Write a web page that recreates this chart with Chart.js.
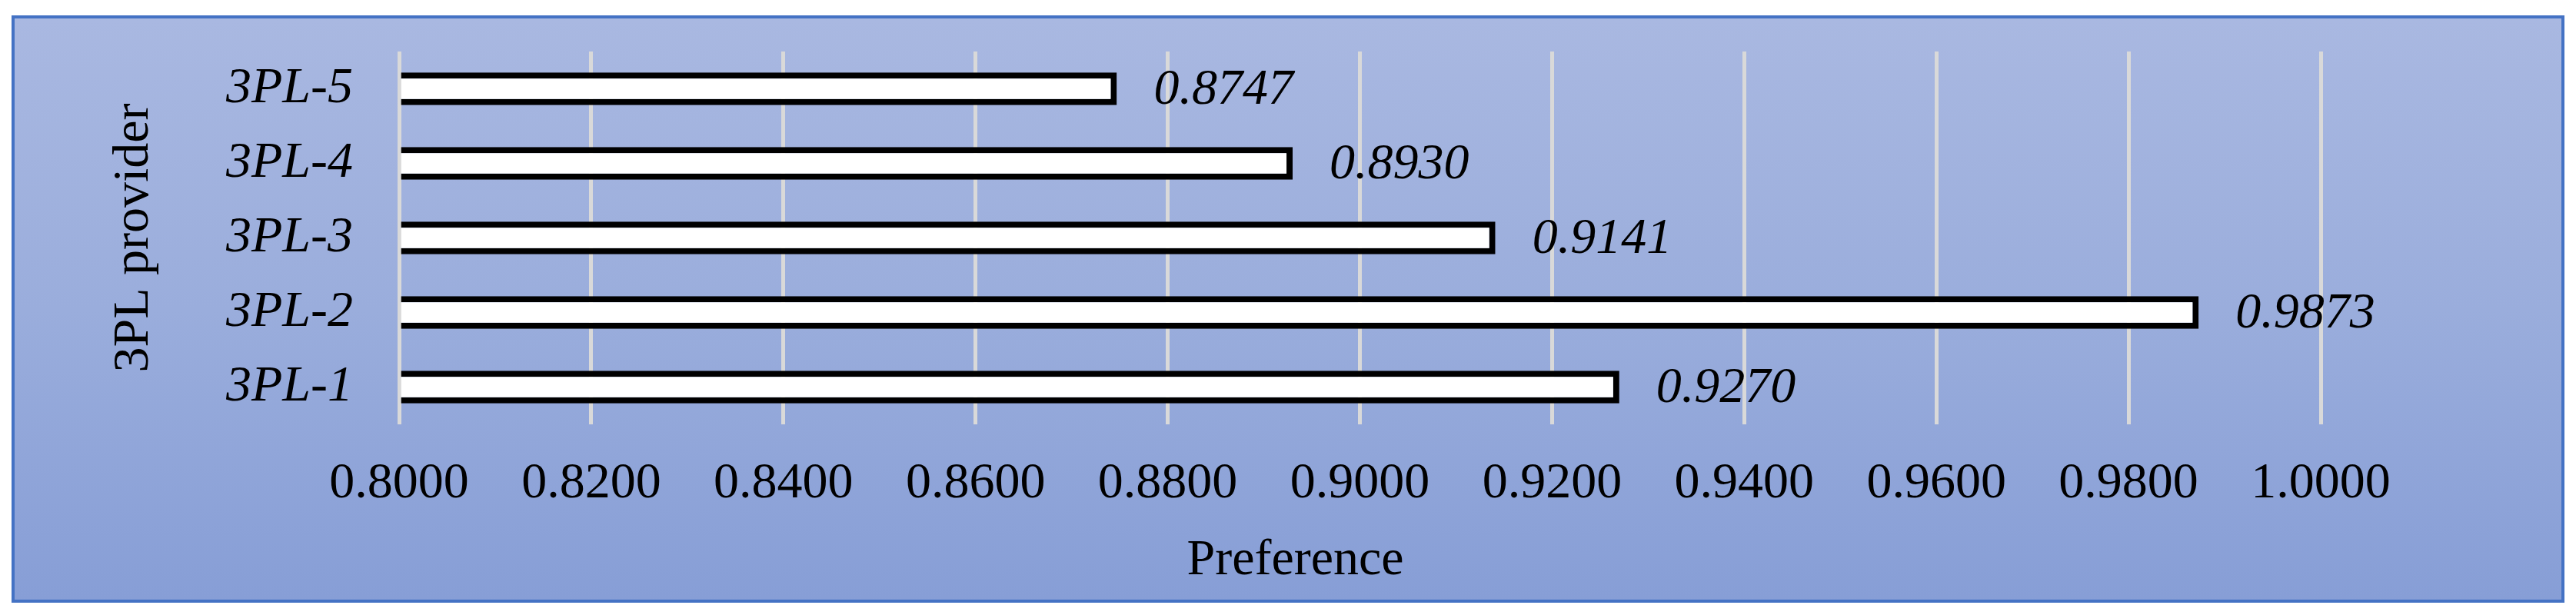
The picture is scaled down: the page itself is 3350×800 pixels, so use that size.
<!DOCTYPE html>
<html>
<head>
<meta charset="utf-8">
<script src="https://cdn.jsdelivr.net/npm/chart.js@4.4.1/dist/chart.umd.min.js"></script>
<style>
  html, body { margin: 0; padding: 0; background: #ffffff; }
  body { width: 3350px; height: 800px; position: relative; overflow: hidden; }
  #frame {
    position: absolute; left: 15px; top: 20px; width: 3312px; height: 756px;
    border: 4px solid #4472C4;
    background: linear-gradient(to bottom, #A9B8E1 0%, #9AADDC 50%, #879ED6 100%);
  }
  #wrap { position: absolute; left: 0; top: 0; width: 3350px; height: 800px; }
</style>
</head>
<body>
<div id="frame"></div>
<div id="wrap"><canvas id="c" width="3350" height="800"></canvas></div>
<script>
// ---- data ----
const categories = ['3PL-1', '3PL-2', '3PL-3', '3PL-4', '3PL-5'];
const preferenceValues = [0.9270, 0.9873, 0.9141, 0.8930, 0.8747];
const xTickMin = 0.8;
const xTickMax = 1.0;
const xTickStep = 0.02;
const xAxisTitle = 'Preference';
const yAxisTitle = '3PL provider';

const FONT = '"Liberation Serif", "Times New Roman", Times, serif';

const valueLabelPlugin = {
  id: 'valueLabels',
  afterDatasetsDraw(chart) {
    const ctx = chart.ctx;
    const meta = chart.getDatasetMeta(0);
    ctx.save();
    ctx.font = 'italic 66px ' + FONT;
    ctx.fillStyle = '#000000';
    ctx.textAlign = 'left';
    ctx.textBaseline = 'middle';
    meta.data.forEach((bar, i) => {
      const v = chart.data.datasets[0].data[i];
      ctx.fillText(v.toFixed(4), bar.x + 48, bar.y + 2);
    });
    ctx.restore();
  }
};

const xTitlePlugin = {
  id: 'xTitle',
  afterDraw(chart) {
    const ctx = chart.ctx;
    const a = chart.chartArea;
    ctx.save();
    ctx.font = '66px ' + FONT;
    ctx.fillStyle = '#000000';
    ctx.textAlign = 'center';
    ctx.textBaseline = 'middle';
    ctx.fillText(xAxisTitle, a.left + (a.right - a.left) * 0.4664, a.bottom + 178);
    ctx.restore();
  }
};

new Chart(document.getElementById('c'), {
  type: 'bar',
  data: {
    labels: categories,
    datasets: [{
      data: preferenceValues,
      backgroundColor: '#FFFFFF',
      borderColor: '#000000',
      borderWidth: 8,
      borderSkipped: 'start',
      base: xTickMin,
      barPercentage: 0.44,
      categoryPercentage: 1.0
    }]
  },
  options: {
    indexAxis: 'y',
    responsive: false,
    animation: false,
    devicePixelRatio: 1,
    layout: { padding: { top: 67, right: 332, left: 0, bottom: 0 } },
    plugins: {
      legend: { display: false },
      tooltip: { enabled: false },
      title: { display: false }
    },
    scales: {
      x: {
        type: 'linear',
        min: xTickMin,
        max: xTickMax,
        afterFit(scale) { scale.height = 248; scale.paddingLeft = 0; scale.paddingRight = 0; },
        border: { display: false },
        grid: { color: '#D9D9D9', lineWidth: 5, drawTicks: false, tickLength: 0 },
        ticks: {
          stepSize: xTickStep,
          padding: 38,
          color: '#000000',
          font: { family: FONT, size: 66 },
          maxRotation: 0,
          autoSkip: false,
          callback: (v) => Number(v).toFixed(4)
        },
        title: { display: false }
      },
      y: {
        reverse: true,
        afterFit(scale) { scale.width = 519; scale.paddingTop = 0; scale.paddingBottom = 0; },
        border: { display: false },
        grid: { display: false, drawTicks: false, tickLength: 0 },
        ticks: {
          padding: 60,
          color: '#000000',
          font: { family: FONT, size: 66, style: 'italic' }
        },
        title: {
          display: true,
          text: yAxisTitle,
          color: '#000000',
          font: { family: FONT, size: 66 },
          padding: { top: 135, bottom: 0 }
        }
      }
    }
  },
  plugins: [valueLabelPlugin, xTitlePlugin]
});
</script>
</body>
</html>
